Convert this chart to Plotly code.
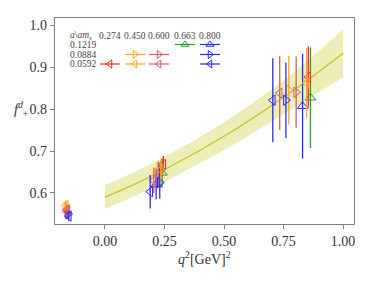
import plotly.graph_objects as go

# ---- data ----
fit_q2 = [0.0, 0.125, 0.25, 0.375, 0.5, 0.625, 0.75, 0.875, 1.0]
fit_mid = [0.590, 0.621, 0.656, 0.694, 0.735, 0.780, 0.828, 0.879, 0.933]
fit_lo = [0.5615, 0.592, 0.626, 0.663, 0.702, 0.744, 0.788, 0.832, 0.876]
fit_hi = [0.6185, 0.650, 0.686, 0.725, 0.768, 0.816, 0.868, 0.926, 0.990]

ams_labels = ["0.274", "0.450", "0.600", "0.663", "0.800"]
a_labels = ["0.1219", "0.0884", "0.0592"]

# series: (a index, ams index) -> q2, f, err
s_q2 = {
    (0, 3): [0.240, 0.863],
    (0, 4): [0.215, 0.830],
    (1, 1): [-0.162, 0.220, 0.772],
    (1, 2): [-0.158, 0.225, 0.803],
    (1, 4): [-0.155, 0.230, 0.760],
    (2, 0): [-0.160, 0.245, 0.854],
    (2, 1): [-0.165, 0.235, 0.847],
    (2, 2): [-0.161, 0.205, 0.734],
    (2, 4): [-0.152, 0.190, 0.705],
}
s_f = {
    (0, 3): [0.648, 0.827],
    (0, 4): [0.620, 0.807],
    (1, 1): [0.565, 0.648, 0.845],
    (1, 2): [0.553, 0.645, 0.840],
    (1, 4): [0.550, 0.625, 0.821],
    (2, 0): [0.560, 0.668, 0.876],
    (2, 1): [0.570, 0.655, 0.862],
    (2, 2): [0.556, 0.630, 0.838],
    (2, 4): [0.545, 0.603, 0.821],
}
s_err = {
    (0, 3): [0.035, 0.120],
    (0, 4): [0.035, 0.125],
    (1, 1): [0.012, 0.025, 0.082],
    (1, 2): [0.010, 0.030, 0.085],
    (1, 4): [0.012, 0.039, 0.090],
    (2, 0): [0.010, 0.020, 0.073],
    (2, 1): [0.012, 0.025, 0.083],
    (2, 2): [0.010, 0.030, 0.088],
    (2, 4): [0.012, 0.040, 0.100],
}

# ---- styles ----
colors = ["#ff2020", "#ffa520", "#c86464", "#22a022", "#2828ff"]
symbols = ["triangle-up-open", "triangle-right-open", "triangle-left-open"]
FONT = "Liberation Serif"

fig = go.Figure()

fig.add_trace(go.Scatter(x=fit_q2, y=fit_hi, mode="lines", line=dict(width=0),
                         showlegend=False, hoverinfo="skip"))
fig.add_trace(go.Scatter(x=fit_q2, y=fit_lo, mode="lines", line=dict(width=0),
                         fill="tonexty", fillcolor="rgba(191,191,0,0.28)",
                         showlegend=False, hoverinfo="skip"))
fig.add_trace(go.Scatter(x=fit_q2, y=fit_mid, mode="lines", line=dict(color="#c4c420", width=1.3),
                         line_shape="spline", showlegend=False))

for key in s_q2:
    ia, im = key
    c = colors[im]
    fig.add_trace(go.Scatter(
        x=s_q2[key], y=s_f[key], mode="markers",
        marker=dict(symbol=symbols[ia], size=9, color=c, line=dict(color=c, width=1)),
        error_y=dict(type="data", array=s_err[key], color=c, thickness=1.3, width=0),
        showlegend=False))

# ---- custom grid legend (pixel overlay axes, screen pixel units) ----
OFF = 8  # page body margin
W, H = 374 - OFF, 288 - OFF
L, R, T, B = 55, 354, 18, 224
col_x = [110, 135, 159, 185, 210]
row_y = [44.5, 54.5, 64]
head_y = 35.5
LF = dict(family=FONT, size=9.5, color="#444")
annotations = []
annotations.append(dict(x=68, y=head_y, xref="x2", yref="y2", text="<i>a</i>\\<i>am<sub>s</sub></i>",
                        showarrow=False, xanchor="left", font=LF))
for j, lab in enumerate(ams_labels):
    annotations.append(dict(x=col_x[j], y=head_y, xref="x2", yref="y2", text=lab, showarrow=False,
                            font=LF))
for i, lab in enumerate(a_labels):
    annotations.append(dict(x=68, y=row_y[i], xref="x2", yref="y2", text=lab, showarrow=False,
                            xanchor="left", font=LF))
for key in s_q2:
    ia, im = key
    c = colors[im]
    cx, cy = col_x[im], row_y[ia]
    fig.add_trace(go.Scatter(x=[cx - 10, cx + 10], y=[cy, cy], xaxis="x2", yaxis="y2", mode="lines",
                             line=dict(color=c, width=1.2), showlegend=False, hoverinfo="skip"))
    fig.add_trace(go.Scatter(x=[cx], y=[cy], xaxis="x2", yaxis="y2", mode="markers",
                             marker=dict(symbol=symbols[ia], size=7, color=c, line=dict(color=c, width=1)),
                             showlegend=False, hoverinfo="skip"))

# axis titles
annotations.append(dict(x=0.5, y=-0.11, xref="paper", yref="paper",
                        text="<i>q</i><sup>2</sup>[GeV]<sup>2</sup>", showarrow=False,
                        yanchor="top", font=dict(family=FONT, size=14, color="#333")))
annotations.append(dict(x=0, y=0.8, xref="paper", yref="y", xshift=-24,
                        text="<i>f</i><sup><i>d</i></sup><sub>+</sub>", showarrow=False,
                        xanchor="right", font=dict(family=FONT, size=14, color="#333")))

axis_common = dict(showgrid=False, zeroline=False, showline=True, linecolor="#808080", linewidth=1.2,
                   mirror=True, ticks="outside", ticklen=4, tickcolor="#808080", automargin=False,
                   tickfont=dict(family=FONT, size=14, color="#333"))

fig.update_layout(
    template="none",
    width=W, height=H,
    margin=dict(l=L - OFF, r=374 - R, t=T - OFF, b=288 - B, autoexpand=False),
    plot_bgcolor="white", paper_bgcolor="white",
    xaxis=dict(range=[-0.21, 1.046], tickvals=[0, 0.25, 0.5, 0.75, 1.0],
               ticktext=["0.00", "0.25", "0.50", "0.75", "1.00"], **axis_common),
    yaxis=dict(range=[0.526, 1.017], tickvals=[0.6, 0.7, 0.8, 0.9, 1.0],
               ticktext=["0.6", "0.7", "0.8", "0.9", "1.0"], **axis_common),
    xaxis2=dict(range=[L, R], overlaying="x", visible=False, fixedrange=True),
    yaxis2=dict(range=[B, T], overlaying="y", visible=False, fixedrange=True),
    annotations=annotations,
    showlegend=False,
)

fig.write_html("out.html")
